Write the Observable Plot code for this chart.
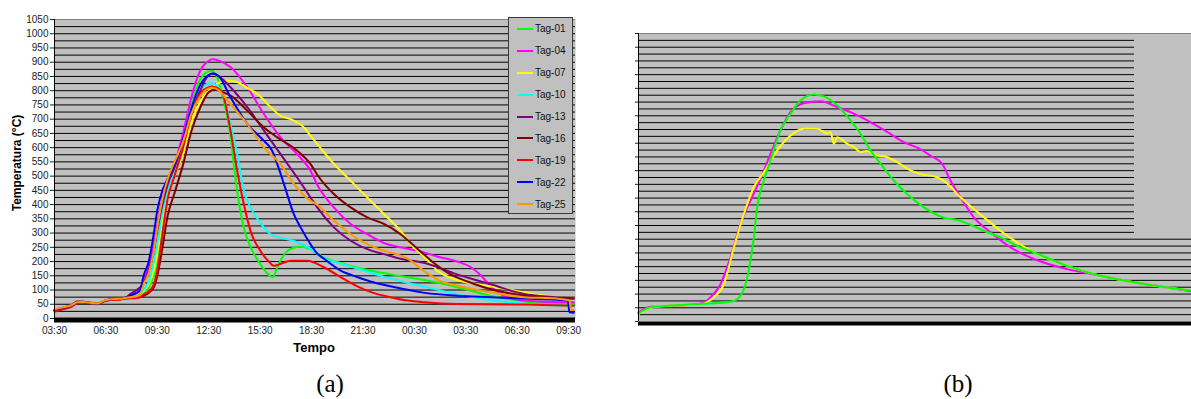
<!DOCTYPE html>
<html>
<head>
<meta charset="utf-8">
<script src="https://cdn.jsdelivr.net/npm/d3@7"></script>
<script src="https://cdn.jsdelivr.net/npm/@observablehq/plot@0.6"></script>
<style>
  html, body { margin: 0; padding: 0; background: #fff; }
  body { width: 1191px; height: 399px; position: relative; overflow: hidden; font-family: "Liberation Sans", Arial, sans-serif; }
  .abs { position: absolute; }
  #chartA { left: 0; top: 0; }
  #chartB { left: 600px; top: 0; }
  .ylab { font-weight: bold; font-size: 12px; white-space: nowrap; transform: translate(-50%, -50%) rotate(-90deg); }
  .xlab { font-weight: bold; font-size: 13px; transform: translate(-50%, -50%); }
  .cap { font-family: "Liberation Serif", "Times New Roman", serif; font-size: 25px; transform: translate(-50%, 0); line-height: 1; }
  #legend { left: 508px; top: 17px; width: 65px; height: 197px; background: #c0c0c0; border: 1px solid #3a3a3a; box-sizing: border-box; }
  .row { height: 21.9px; display: flex; align-items: center; font-size: 10px; color: #111; }
  .sw { width: 16px; height: 2px; margin-left: 8px; margin-right: 2px; }
  #emptyBox { left: 1134px; top: 34px; width: 57px; height: 203px; background: #c0c0c0; }
</style>
</head>
<body>
<div id="chartA" class="abs"></div>
<div id="chartB" class="abs"></div>
<div id="legend" class="abs"></div>
<div id="emptyBox" class="abs"></div>
<div class="abs ylab" style="left:17px; top:163px;">Temperatura (°C)</div>
<div class="abs xlab" style="left:314px; top:347px;">Tempo</div>
<div class="abs cap" style="left:330px; top:371px;">(a)</div>
<div class="abs cap" style="left:958px; top:371px;">(b)</div>
<script>
// ---------- Data (hours after 03:30, temperature °C) ----------
const tags = ["Tag-01","Tag-04","Tag-07","Tag-10","Tag-13","Tag-16","Tag-19","Tag-22","Tag-25"];
const colors = ["#00ff00","#ff00ff","#ffff00","#00ffff","#800080","#800000","#ff0000","#0000ff","#ff9900"];

const hourTicks = [0,3,6,9,12,15,18,21,24,27,30];
const hourLabels = ["03:30","06:30","09:30","12:30","15:30","18:30","21:30","00:30","03:30","06:30","09:30"];
const yTicks = [0,50,100,150,200,250,300,350,400,450,500,550,600,650,700,750,800,850,900,950,1000,1050];

const tag01 = [[0,30],[0.5,37],[1,45],[1.3,55],[1.6,57],[2,55],[2.5,52],[2.9,61],[3.3,67],[3.8,68],[4.2,72],[4.8,76],[5.2,88],[5.5,110],[5.8,150],[6,200],[6.3,320],[6.6,430],[7,510],[7.5,610],[8,750],[8.5,840],[9,868],[9.2,870],[9.5,845],[9.9,760],[10.27,640],[10.5,520],[10.7,430],[11,330],[11.34,265],[11.7,220],[12.02,190],[12.4,160],[12.74,145],[13,180],[13.2,205],[13.5,232],[13.8,245],[14.3,252],[14.9,245],[15.7,215],[16.7,195],[17.7,178],[19.6,155],[21.6,135],[23.5,110],[25.45,80],[27.4,60],[29,52],[30.3,50]];
const tag04 = [[0,30],[0.5,38],[1,46],[1.3,57],[1.6,58],[2,56],[2.5,52],[2.9,62],[3.3,68],[3.8,69],[4.2,73],[4.6,85],[5,100],[5.2,130],[5.5,180],[5.8,260],[6,330],[6.3,420],[6.6,480],[7,540],[7.5,650],[8,780],[8.5,870],[9,905],[9.2,910],[9.6,905],[10.27,883],[11.25,812],[12.22,718],[13.19,636],[14.16,577],[14.94,519],[15.33,470],[16.3,390],[17.28,332],[18.25,296],[19.22,265],[20.19,250],[21.2,238],[22.5,215],[23.5,200],[24.3,180],[24.9,150],[25.45,113],[26.4,75],[27.4,63],[29,58],[30.3,57]];
const tag07 = [[0,30],[0.5,38],[1,45],[1.3,56],[1.6,58],[2,56],[2.5,52],[2.9,62],[3.3,68],[3.8,68],[4.2,72],[4.8,78],[5.2,95],[5.5,120],[5.8,170],[6,230],[6.3,340],[6.6,430],[7,500],[7.5,580],[8,690],[8.5,760],[9,800],[9.5,825],[10.08,836],[10.66,830],[11.25,810],[11.83,789],[12.61,742],[13.19,712],[13.77,700],[14.55,671],[14.94,642],[15.33,613],[16.3,543],[17.28,484],[18.25,425],[19.22,367],[20.19,308],[20.97,249],[21.6,215],[22.4,165],[23.5,135],[25.45,113],[27.4,92],[29.3,75],[30.3,70]];
const tag10 = [[0,30],[0.5,38],[1,45],[1.3,56],[1.6,58],[2,56],[2.5,52],[2.9,62],[3.3,68],[3.8,68],[4.2,72],[4.8,80],[5.2,100],[5.5,130],[5.8,200],[6,260],[6.3,370],[6.6,450],[7,510],[7.5,600],[8,730],[8.5,800],[9,825],[9.2,826],[9.5,815],[9.88,777],[10.27,683],[10.66,577],[11.05,448],[11.44,390],[12.02,335],[12.61,296],[13.19,284],[13.97,272],[14.94,245],[15.7,212],[16.7,193],[17.7,175],[19.6,140],[21.6,112],[23.5,85],[25.45,65],[27.4,52],[29.3,46],[30.3,45]];
const tag13 = [[0,30],[0.5,38],[1,46],[1.3,60],[1.6,60],[2,56],[2.5,52],[2.9,62],[3.3,68],[3.8,69],[4.2,75],[4.4,85],[4.8,100],[5,110],[5.2,125],[5.5,170],[5.8,240],[6,310],[6.3,400],[6.6,470],[7,530],[7.5,620],[8,720],[8.5,800],[9,855],[9.3,860],[9.6,850],[10.27,812],[11.25,742],[12.22,660],[13.19,577],[14.16,495],[14.94,425],[15.33,390],[16.3,320],[17.28,273],[18.4,240],[19.22,226],[20.19,210],[21.6,195],[23.5,155],[25.45,120],[27.4,86],[29.3,75],[30.3,70]];
const tag16 = [[0,28],[0.5,36],[1,44],[1.3,55],[1.6,57],[2,55],[2.5,51],[2.9,61],[3.3,67],[3.8,68],[4.2,71],[4.8,74],[5,75],[5.2,80],[5.5,90],[5.8,110],[6,150],[6.3,250],[6.6,360],[7,440],[7.5,540],[8,660],[8.5,740],[9,795],[9.4,805],[9.8,795],[10.27,783],[11.25,730],[12.22,671],[13,636],[14.16,589],[14.94,542],[15.33,505],[16.3,437],[17.28,390],[18.25,355],[19.22,332],[20.19,296],[21.17,245],[22.14,195],[23.11,155],[24.09,130],[25.06,110],[26.23,92],[27.59,78],[29.3,72],[30.3,70]];
const tag19 = [[0,24],[0.5,32],[1,42],[1.3,53],[1.6,56],[2,54],[2.5,50],[2.9,60],[3.3,65],[3.8,66],[4.2,70],[4.8,72],[5,75],[5.2,85],[5.5,95],[5.8,120],[6,170],[6.3,300],[6.6,420],[7,500],[7.5,600],[8,720],[8.5,790],[9,812],[9.2,815],[9.5,810],[9.88,777],[10.27,660],[10.66,519],[11.05,401],[11.44,307],[12.02,237],[12.5,200],[12.8,185],[13.2,192],[13.77,203],[14.75,203],[15.72,180],[16.7,145],[17.67,113],[18.6,90],[19.6,75],[20.6,63],[21.6,57],[23.5,51],[27.4,49],[30.3,45]];
const tag22 = [[0,30],[0.5,38],[1,46],[1.3,57],[1.6,58],[2,56],[2.5,52],[2.9,62],[3.3,68],[3.8,69],[4.2,74],[4.4,80],[4.8,90],[5,100],[5.2,150],[5.5,200],[5.8,300],[6,380],[6.3,450],[6.6,490],[7,540],[7.5,630],[8,740],[8.5,820],[9,855],[9.2,860],[9.6,850],[10.27,777],[11.25,683],[12.22,624],[12.7,589],[13,542],[13.39,472],[13.97,366],[14.36,320],[14.94,261],[15.3,230],[15.72,210],[16.7,168],[17.7,145],[18.6,127],[19.6,113],[21.6,90],[23.5,80],[25.45,75],[27.4,70],[29.3,66],[29.95,63],[30.05,22],[30.3,20]];
const tag25 = [[0,32],[0.5,39],[1,47],[1.3,57],[1.6,58],[2,56],[2.5,53],[2.9,63],[3.3,68],[3.8,69],[4.2,73],[4.8,78],[5,85],[5.2,120],[5.5,160],[5.8,240],[6,320],[6.3,420],[6.6,490],[7,550],[7.5,620],[8,720],[8.5,780],[9,808],[9.2,810],[9.5,805],[10.27,753],[11.25,683],[12.22,601],[13.19,542],[13.97,472],[14.94,413],[15.33,400],[16.3,343],[17.28,296],[18.25,261],[19.22,238],[19.6,232],[20.6,210],[21.6,165],[22.5,132],[23.5,115],[25.45,92],[27.4,75],[29.3,70],[30.05,63],[30.15,30],[30.3,30]];

// panel (b)
const bTags = ["Tag-10","Tag-04","Tag-07","Tag-01"];
const bColors = ["#00ffff","#ff00ff","#ffff00","#00ff00"];
const bCyan = [[0,28],[0.78,50],[2.08,57],[4.04,63],[5.34,68],[6.1,72]];
const bMagenta = [[0,33],[0.78,54],[2.08,57],[4.04,66],[4.69,88],[5.34,136],[5.99,234],[6.64,356],[7.29,441],[7.94,520],[8.59,611],[9.24,697],[9.9,764],[10.76,796],[11.85,803],[12.93,782],[14.02,758],[15.1,727],[16.19,691],[17.27,654],[18.36,628],[19.0,605],[19.77,575],[20.31,514],[20.96,453],[21.83,380],[22.92,325],[24.22,270],[25.74,228],[27.91,191],[30.08,167],[32.25,143],[34.42,124],[36,110]];
const bYellow = [[0,27],[1,54],[4.04,63],[4.9,88],[5.56,136],[6.21,270],[6.86,392],[7.51,490],[8.16,544],[9.03,624],[9.9,678],[10.76,703],[11.63,703],[12.28,685],[12.5,690],[12.72,648],[12.93,672],[13.59,648],[14.02,636],[14.45,618],[14.89,622],[15.54,605],[16.19,599],[16.84,581],[17.71,551],[18.36,538],[19.44,526],[19.99,508],[20.96,453],[22.48,380],[23.57,331],[25.74,252],[27.91,203],[30.08,167],[32.25,143],[34.42,124],[36,114]];
const bGreen = [[0,29],[0.78,52],[2.08,58],[4.04,64],[5.99,72],[6.1,73],[6.5,85],[6.97,136],[7.29,222],[7.51,307],[7.73,417],[8.16,514],[8.59,587],[9.24,697],[9.9,758],[10.55,806],[11.41,828],[12.07,821],[12.93,788],[13.8,733],[14.45,685],[15.1,624],[15.76,575],[16.62,514],[17.49,465],[18.36,425],[19.88,378],[20.75,370],[22.48,331],[23.57,307],[24.65,276],[25.74,252],[27.91,203],[30.08,167],[32.25,143],[34.42,124],[36,113]];

// ---------- Build tables ----------
const seriesA = [tag01, tag04, tag07, tag10, tag13, tag16, tag19, tag22, tag25];
const tableA = seriesA.flatMap((pts, i) => pts.map(([h, v]) => ({tag: tags[i], h, v})));
const seriesB = [bCyan, bMagenta, bYellow, bGreen];
const tableB = seriesB.flatMap((pts, i) => pts.map(([h, v]) => ({tag: bTags[i], h, v})));
const grid = d3.range(25, 1050, 25);

const baseStyle = {fontFamily: "'Liberation Sans', Arial, sans-serif", fontSize: "10px", background: "transparent", overflow: "visible", color: "#222"};

const chartA = Plot.plot({
  width: 590, height: 360,
  marginLeft: 54, marginRight: 15, marginTop: 19, marginBottom: 42,
  style: baseStyle,
  x: {domain: [0, 30.4]},
  y: {domain: [0, 1050]},
  color: {domain: tags, range: colors},
  marks: [
    Plot.frame({fill: "#c0c0c0", stroke: null}),
    Plot.ruleY(grid, {stroke: "#000", strokeWidth: 1}),
    Plot.ruleY([1050], {stroke: "#808080", strokeWidth: 1}),
    Plot.line(tableA, {x: "h", y: "v", z: "tag", stroke: "tag", strokeWidth: 2, curve: "monotone-x"}),
    Plot.ruleY([0], {stroke: "#000", strokeWidth: 5, dy: 1.5}),
    Plot.ruleX([0], {stroke: "#000", strokeWidth: 1}),
    Plot.axisY({ticks: yTicks, tickSize: 4, tickPadding: 2, tickFormat: d => String(d), label: null, fill: "#222"}),
    Plot.axisX({ticks: hourTicks, tickFormat: d => hourLabels[hourTicks.indexOf(d)], tickSize: 0, tickPadding: 8, label: null, fill: "#222"})
  ]
});
document.getElementById("chartA").appendChild(chartA);

const chartB = Plot.plot({
  width: 591, height: 360,
  marginLeft: 38, marginRight: 0, marginTop: 33, marginBottom: 39,
  style: baseStyle,
  x: {domain: [0, 36], axis: null},
  y: {domain: [0, 1050]},
  color: {domain: bTags, range: bColors},
  marks: [
    Plot.frame({fill: "#c0c0c0", stroke: null}),
    Plot.ruleY(grid, {stroke: "#000", strokeWidth: 1}),
    Plot.ruleY([1050], {stroke: "#808080", strokeWidth: 1}),
    Plot.line(tableB, {x: "h", y: "v", z: "tag", stroke: "tag", strokeWidth: 2, curve: "monotone-x"}),
    Plot.ruleY([0], {stroke: "#000", strokeWidth: 4, dy: 2}),
    Plot.ruleX([0], {stroke: "#000", strokeWidth: 1}),
    Plot.axisY({ticks: yTicks, tickSize: 3, tickFormat: () => "", label: null})
  ]
});
document.getElementById("chartB").appendChild(chartB);

// ---------- Legend ----------
const legend = document.getElementById("legend");
tags.forEach((t, i) => {
  const row = document.createElement("div");
  row.className = "row";
  const sw = document.createElement("span");
  sw.className = "sw";
  sw.style.background = colors[i];
  const lab = document.createElement("span");
  lab.textContent = t;
  row.appendChild(sw);
  row.appendChild(lab);
  legend.appendChild(row);
});
</script>
</body>
</html>
